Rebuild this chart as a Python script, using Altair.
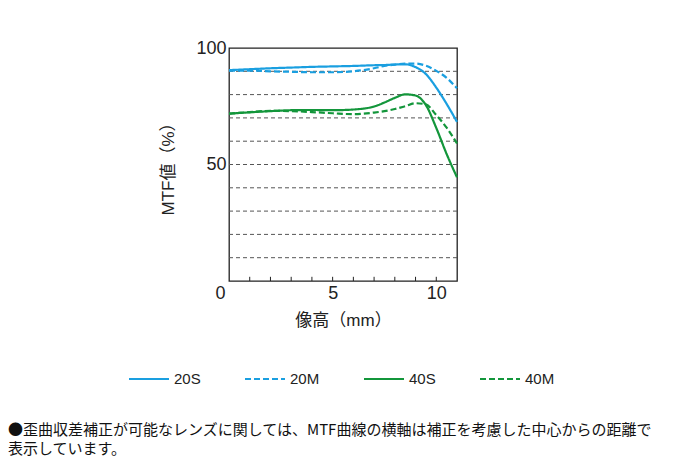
import altair as alt
import pandas as pd

# ---- data ----
x_mm = [0, 1, 2, 3, 4, 5, 6, 7, 7.5, 8, 8.5, 9, 9.5, 10, 10.5, 11]
mtf_20s = [90.5, 90.9, 91.3, 91.6, 91.9, 92.1, 92.3, 92.6, 92.7, 92.9, 93.0, 91.8, 88.8, 83.0, 76.0, 68.3]
mtf_20m = [90.3, 90.3, 90.0, 89.8, 89.6, 89.6, 90.0, 91.3, 92.3, 92.9, 93.3, 93.3, 92.4, 90.2, 87.2, 82.7]
mtf_40s = [71.8, 72.4, 72.9, 73.3, 73.4, 73.3, 73.6, 74.9, 76.6, 78.6, 80.1, 79.6, 75.5, 65.7, 54.5, 44.5]
mtf_40m = [71.8, 72.5, 73.0, 72.9, 72.5, 72.0, 71.6, 72.3, 72.9, 73.8, 75.0, 76.3, 75.8, 71.2, 65.8, 59.0]

series = ["20S", "20M", "40S", "40M"]
series_colors = ["#1a9fe0", "#1a9fe0", "#13963b", "#13963b"]
series_dashes = [[1, 0], [6, 3], [1, 0], [6, 3]]

x_tick_labels = [0, 5, 10]
x_minor_ticks = [1, 2, 3, 4, 5, 6, 7, 8, 9, 10]
y_tick_labels = [50, 100]
y_grid_values = [10, 20, 30, 40, 50, 60, 70, 80, 90]

footnote = [
    "●歪曲収差補正が可能なレンズに関しては、MTF曲線の横軸は補正を考慮した中心からの距離で",
    "表示しています。",
]

rows = []
for name, vals in zip(series, [mtf_20s, mtf_20m, mtf_40s, mtf_40m]):
    for xv, yv in zip(x_mm, vals):
        rows.append({"x": xv, "mtf": yv, "series": name})
df = pd.DataFrame(rows)
grid_df = pd.DataFrame({"v": y_grid_values})
tick_df = pd.DataFrame({"t": x_minor_ticks})

LATIN = "Liberation Sans"
MIXED = "Liberation Sans, Noto Sans CJK JP"
CJK = "Noto Sans CJK JP"
INK = "#222222"

x_scale = alt.Scale(domain=[0, 11], nice=False, zero=False)
y_scale = alt.Scale(domain=[0, 100], nice=False)

grid = alt.Chart(grid_df).mark_rule(
    color="#555555", strokeWidth=1, strokeDash=[4, 3]
).encode(y=alt.Y("v:Q", scale=y_scale))

ticks = alt.Chart(tick_df).mark_rule(color=INK, strokeWidth=1).encode(
    x=alt.X("t:Q", scale=x_scale),
    y=alt.datum(0),
    y2=alt.datum(1.8),
)

lines = alt.Chart(df).mark_line(strokeWidth=2.2, interpolate="monotone").encode(
    x=alt.X(
        "x:Q",
        scale=x_scale,
        axis=alt.Axis(
            values=x_tick_labels,
            title="像高（mm）",
            grid=False,
            ticks=False,
            domain=False,
            labelFlush=False,
            labelFont=LATIN,
            labelFontSize=18,
            labelColor=INK,
            labelPadding=3,
            labelOffset={"condition": {"test": "datum.value === 0", "value": -9}, "value": 0},
            titleFont=MIXED,
            titleFontSize=17,
            titleFontWeight="normal",
            titleColor=INK,
            titlePadding=10,
        ),
    ),
    y=alt.Y(
        "mtf:Q",
        scale=y_scale,
        axis=alt.Axis(
            values=y_tick_labels,
            title="MTF値（%）",
            grid=False,
            ticks=False,
            domain=False,
            labelFont=LATIN,
            labelFontSize=18,
            labelColor=INK,
            labelPadding=3,
            titleFont=MIXED,
            titleFontSize=17,
            titleFontWeight="normal",
            titleColor=INK,
            titlePadding=18,
        ),
    ),
    color=alt.Color("series:N", scale=alt.Scale(domain=series, range=series_colors), title=None),
    strokeDash=alt.StrokeDash("series:N", scale=alt.Scale(domain=series, range=series_dashes), title=None),
)

chart = (
    alt.layer(grid, ticks, lines)
    .properties(
        width=228,
        height=233,
        padding={"left": 221, "top": 40, "right": 221, "bottom": 177},
        autosize=alt.AutoSizeParams(type="none"),
        title=alt.TitleParams(
            text=footnote,
            orient="bottom",
            anchor="start",
            frame="group",
            dx=-221,
            offset=36,
            font=CJK,
            fontSize=15,
            fontWeight="normal",
            color="#111111",
            lineHeight=19,
        ),
    )
    .configure_view(stroke=INK, strokeWidth=1.3)
    .configure_legend(
        orient="none",
        legendX=-101,
        legendY=310,
        direction="horizontal",
        symbolType="stroke",
        symbolSize=1600,
        symbolStrokeWidth=2,
        labelFont=LATIN,
        labelFontSize=15,
        labelColor=INK,
        labelOffset=4,
        columnPadding=40,
    )
)

chart.save("out.html", embed_options={"renderer": "svg", "actions": False})
